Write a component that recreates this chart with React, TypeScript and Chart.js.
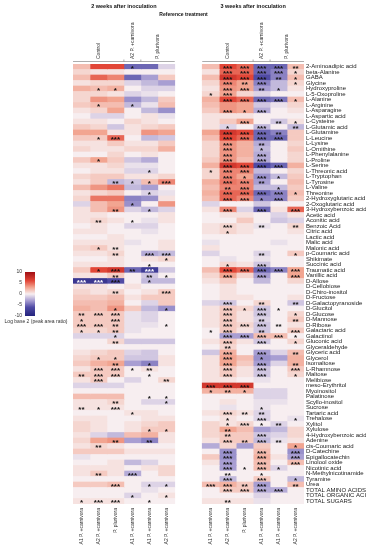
import React, { useEffect, useRef } from "react";
import { Chart, registerables } from "chart.js";

Chart.register(...registerables);

const rowLabels = [
  "2-Aminoadipic acid", "beta-Alanine", "GABA", "Glycine", "Hydroxyproline", "L-5-Oxoproline",
  "L-Alanine", "L-Arginine", "L-Asparagine", "L-Aspartic acid", "L-Cysteine", "L-Glutamic acid",
  "L-Glutamine", "L-Leucine", "L-Lysine", "L-Ornithine", "L-Phenylalanine", "L-Proline", "L-Serine",
  "L-Threonic acid", "L-Tryptophan", "L-Tyrosine", "L-Valine", "Threonine", "2-Hydroxyglutaric acid",
  "2-Oxoglutaric acid", "3-Hydroxybenzoic acid", "Acetic acid", "Aconitic acid", "Benzoic Acid",
  "Citric acid", "Lactic acid", "Malic acid", "Malonic acid", "p-Coumaric acid", "Shikimate",
  "Succinic acid", "Traumatic acid", "Vanillic acid", "D-Allose", "D-Cellobiose", "D-Chiro-inositol",
  "D-Fructose", "D-Galactopyranoside", "D-Glucitol", "D-Glucose", "D-Mannose", "D-Ribose",
  "Galactaric acid", "Galactinol", "Gluconic acid", "Glyceraldehyde", "Glyceric acid", "Glycerol",
  "Isomaltose", "L-Rhamnose", "Maltose", "Melibiose", "meso-Erythritol", "Myoinositol", "Palatinose",
  "Scyllo-inositol", "Sucrose", "Tartaric acid", "Trehalose", "Xylitol", "Xylulose",
  "4-Hydroxybenzoic acid", "Adenine", "cis-Coumaric acid", "D-Catechine", "Epigallocatechin",
  "Linolool oxide", "Nicotinic acid", "N-Methylnicotinamide", "Tyramine", "Urea",
  "TOTAL AMINO ACIDS", "TOTAL ORGANIC ACIDS", "TOTAL SUGARS",
];

const compareLabels = [
  "A1 P. +carnivora", "A2 P. +carnivora", "P. plurivora",
  "A1 P. +carnivora", "A1 P. +carnivora", "A2 P. +carnivora",
];
const referenceGroups = ["Control", "A2 P. +carnivora", "P. plurivora"];
const referenceSpans = [3, 1, 2];
const panelTitles = ["2 weeks after inoculation", "3 weeks after inoculation"];
const middleTitle = "Reference treatment";
const legendTicks = [10, 5, 0, -5, -10];
const legendTitle = "Log base 2 (peak area ratio)";

// ---- 2 weeks after inoculation (log2 ratios) ----
const w2A1vsCtrl = [
  2, 1, 2, 0.5, 2.5, 1, 1, 1.5, 0.5, 0,
  0.5, 1.5, 3, 1.5, 0.5, 1, 0, 1.5, 0.5, 0,
  1, 0.5, 2, 0.5, 1, -1, 0.5, 0.5, 0.5, 0,
  0.5, 0, 0.5, 1, 0.5, 0, 0.5, 1.5, 0.5, -8,
  0.5, 1, 1.5, 2, 2.5, 1.5, 1.5, 1.5, 1, -1,
  0, 0, 0.5, 1, 1.5, 0.5, 1.5, 0.5, -1, 0,
  2, 0.5, 0.5, 0, 0.5, 1, 1, 0.5, 1, 0.5,
  1.5, -0.5, 0, 0.5, 0.5, 0, 1.5, 0, 0, 0.5,
];
const w2A2vsCtrl = [
  6, 0.5, 5, 1, 2, 1, 3.5, 2, 1, -1,
  0.5, 1, 3, 1.5, 0.5, 0.5, 0, 3, 0.5, 0.5,
  1.5, 1.5, 3.5, 1, 4.5, 2, 2, 0.5, 1, 0.5,
  0.5, 0, 0.5, 1.5, 0.5, 0, 0.5, 6, 0.5, -8,
  0.5, 0.5, 1.5, 2, 2, 1.5, 1.5, 1.5, 1, -1,
  0, 0, 1, 1.5, 2.5, 1.5, 1.5, 1.5, -1, 0,
  2, 0.5, 0.5, 0, 0.5, 0.5, 0.5, -1, 3, 1,
  1.5, 0, 0, 0.5, 1.5, 0, 1.5, 0, 0, 0.5,
];
const w2PpvsCtrl = [
  6, 0.5, 4, 1, 2.5, 0.5, 3, 2, 3, -1,
  0, -1.5, 0.5, 5, 1.5, 0.5, 1, 1.5, 1, 0.5,
  1.5, -2, 4.5, 1.5, 4.5, 3, 3.5, 0, 0.5, 0,
  0, 0.5, 0.5, 0.5, 1, 0.5, 0.5, 7, 1.5, -6,
  0, 1, 2, 2.5, 3.5, 1.5, 1.5, 1.5, 1.5, -1,
  1, 0, 1.5, 1.5, 3, 1.5, 1.5, 0, -1, 0,
  2, 1, 0.5, 0, 0, 0, 0, -2, 3.5, 0.5,
  1.5, 0, 0.5, 0.5, 0.5, 0, 2, 0, 0, 0.5,
];
const w2A1vsA2 = [
  -5, 0, -5, -1, 0, -1, -3.5, -2, 0, 0,
  1, 0.5, 0.5, 0, 0.5, 1, 0, -1.5, -0.5, -1,
  0.5, -1.5, -2, 0, -4, -3.5, -1, 0, 0, -1,
  0, 0, -0.5, 0, 0, 0, 0, -5, 0, 0,
  0.5, 0, 0.5, 0, 1.5, -0.5, -0.5, -0.5, -0.5, 0,
  -1.5, 0, -1, -1.5, -3, 0, 0, -1, 0, 0,
  0, 0, 0, 0.5, 0, 0.5, 0.5, 2, -3, 0,
  0.5, 0, -2, 0, -2.5, 0, 0, 0, -1, 0,
];
const w2A1vsPp = [
  -5, 0, -3, -2, -1, -0.5, -2, -0.5, -2, 0.5,
  0.5, 1, 3.5, -2, 0.5, 1, 0.5, -2.5, -0.5, -1,
  0.5, 2, -3, -1, -3.5, 0, -2, 0, -0.5, -1,
  -0.5, 0, 0, 0, -2.5, 0.5, 0, -7.5, -1.5, -2,
  0, 0.5, 1.5, -1, -2, -1, -1, -0.5, 0, 0,
  -1.5, 0, -1.5, -1.5, -4, 0.5, 0, 0, 0, 0,
  0, -1, 0, 0.5, 0.5, 1, 1.5, 2.5, -4, 0,
  0.5, 0, -1, 0.5, 0, 0, -1, -0.5, 0, 0,
];
const w2A2vsPp = [
  -1, 0, 1.5, -3, -1, 0, 1.5, 2, -3.5, -0.5,
  0, 1.5, 3, -1.5, 1.5, 2.5, 0, 0, 0, 0,
  1, 4, 0, -0.5, 0.5, 3.5, -1, 0.5, 0.5, 0,
  0, 0, 0.5, 0.5, -2, 1, 0, -1.5, 0, -2,
  0, 1.5, 1.5, 1.5, -3.5, 0, 0, 0, 0, 0,
  -1.5, 0, 0, 0.5, 0.5, 0, 0, 1, 0, 0,
  0, -1, 0, 0, 0.5, 1.5, 1.5, 0.5, 0.5, 0,
  0.5, 0, 0, 1, 1, 0, -1, 0, 0.5, 0,
];

// ---- 3 weeks after inoculation (log2 ratios) ----
const w3A1vsCtrl = [
  2, 0.5, 2, 1, 0.5, 1, 2.5, 2, 1.5, 0.5,
  0.5, 0.5, 3, 2, 1, 1, 1, 1.5, 2.5, 1,
  1, 2.5, 2, 2.5, 2, -1, 0.5, 0, 0, 0.5,
  0.5, 0, -0.5, 0.5, -1, 0, 0, 2, 1, 0.5,
  0, 0, 0, -1, 0.5, 0.5, 0.5, 0.5, 0, 0,
  0.5, 0, -1.5, 0.5, 0.5, 0.5, 0.5, 0.5, 7, 2.5,
  0, 0, 0, 0.5, 0, 1, 1, 1, 0.5, -2.5,
  0, 1.5, 0.5, 0, 0, 0, 2, 0, 0, 0.5,
];
const w3A2vsCtrl = [
  6, 5, 7, 4, 3.5, 3, 6, 3.5, 3.5, 0.5,
  1.5, -1, 7, 6, 3.5, 3.5, 3.5, 3.5, 7, 4,
  4, 4.5, 4, 5, 5, 0, 4, 0.5, 0, 1,
  1, 0, 0, 0, 0, -0.5, 1, 6, 3, 1.5,
  0.5, 0.5, 0.5, -1.5, 1.5, 1.5, 1.5, 1.5, 1.5, -3,
  1.5, 1, 2.5, 3, 3, 1.5, 1.5, 0.5, 7, 2.5,
  0, 0.5, -0.5, 1, 0.5, 0.5, 3, 1.5, 1.5, 1,
  -3.5, -3.5, -3, -3, 0, -2, 2.5, 1.5, 0, 0.5,
];
const w3PpvsCtrl = [
  5, 5, 6, 3, 3, 1, 5, 3, 3, 0.5,
  3, 0, 6, 5, 2.5, 2.5, 2.5, 2, 6, 4,
  3, 4, 4, 5, 4, 0, -1, 0.5, 1.5, 0.5,
  0.5, 0, 0, 0, 0, 0, 0.5, 5, 1, 0,
  0, 0, 0.5, 0, 1, 0.5, 0.5, 1, 0.5, -3,
  0.5, 0, 0, 2, 1.5, 0.5, 0.5, 0, 7, 2.5,
  0, 0, 0, 0.5, 0, 1, 2, 1.5, 1.5, -3,
  0, 0, 0, 0, 0, 0, 1.5, 1.5, 0, 0.5,
];
const w3A1vsA2 = [
  -5, -5, -6, -4, -3, -1, -5, -1.5, -2.5, 0,
  0, -2, -5, -5, -2.5, -2, -2.5, -2.5, -6, -2,
  -3.5, -3, -2, -5, -4, -1.5, -5, 0, 0, -0.5,
  0, 0, 0, 0, -1, -0.5, -1.5, -5, -3, -2,
  0, 0, 0, 1, -1.5, -1.5, -1, -1.5, -1.5, 2,
  -1.5, 0, -3, -3.5, -3, -1.5, -1.5, -0.5, 0, -1,
  -1, -0.5, -0.5, -1, -1, 0, -3, -1.5, -2, 1.5,
  2, 2.5, 2, 2, 0, 1.5, -3, -2.5, -1, -0.5,
];
const w3A1vsPp = [
  -5, -4, -4, -2, -2, 0, -4.5, -0.5, 0, 0,
  -1.5, 0, -4, -5, 0, 0, 0, 0, -5, 0,
  -2, 0, -2, -4, -4, 0, 0.5, -1, -1.5, 0,
  0, 0, -0.5, 0, 0, 0, 0, -4, 0, 0,
  0, 0, 0, 0, 0, 0, 0, 0, 0, 2,
  0, 0, -1, -3, -1, 0, 0, 0, 0, -1,
  -1, -0.5, 0, 0, 0, -1, -2, -1, -0.5, 0,
  0, 0.5, 0, -1, 0, 0, 0, -2.5, 0, 0,
];
const w3A2vsPp = [
  2, 1, 2, 1, 0.5, 0, 2, 1, 0.5, 0,
  0.5, -2, 1.5, 1.5, 1, 1.5, 1, 1, 2.5, 1,
  1.5, 2, 1.5, 2, 1.5, 0, 5, 0.5, -1, 1,
  0.5, 0, 0, 0, 1.5, 0, 0, 3, 3, 1,
  0, 0, 0.5, -1.5, 0, 1, 1.5, 0.5, 1.5, 0,
  1, 0, 2, 2.5, 2.5, 1.5, 1, 0, 0, 0,
  0, 0, 0, 0, -0.5, 0, 1, 1, 0.5, 3,
  -3.5, -3, 2, 0, 0, -2, 2, 0, 0, 0,
];

// significance: number of asterisks per row
const w2A1vsCtrlStars = "0000000000" + "0000000000" + "0000000000" + "0000000003" + "0000021310" + "0000002000" + "0020000000" + "0000000001";
const w2A2vsCtrlStars = "0000100100" + "0001000100" + "0000000020" + "0001000103" + "0000030310" + "0001033300" + "0010000002" + "0000200003";
const w2PpvsCtrlStars = "0000100000" + "0003000000" + "0200002000" + "0002200323" + "0200133221" + "2001233000" + "0230000020" + "0000003003";
const w2A1vsA2Stars = "1000000100" + "0000000000" + "0100010010" + "0000000200" + "0000000000" + "0000010000" + "0001000000" + "0000300010";
const w2A1vsPpStars = "0000000000" + "0000000001" + "0101001000" + "0000301321" + "0000000000" + "0000121000" + "1000001020" + "0000001001";
const w2A2vsPpStars = "0000000000" + "0000000000" + "0300000000" + "0000310010" + "0300100100" + "0000000200" + "1100001000" + "0000001010";

const w3A1vsCtrlStars = "0000010000" + "0000000001" + "0000000000" + "0000000000" + "0000000010" + "0000000031" + "0000000000" + "0000003000";
const w3A2vsCtrlStars = "3333333030" + "0133333333" + "3323303003" + "1000001330" + "0003333333" + "3233333032" + "0003112230" + "3333233302";
const w3PpvsCtrlStars = "3332303010" + "3033000033" + "1333300000" + "0000000300" + "0000100303" + "0000000031" + "0002030020" + "0001002300";
const w3A1vsA2Stars = "3333203030" + "0333213330" + "3203103002" + "0000203330" + "0002332323" + "3031333000" + "0012310330" + "3333133300";
const w3A1vsPpStars = "3320103000" + "2023000030" + "1013300000" + "0000000300" + "0000100203" + "0000000000" + "0000020020" + "0001000300";
const w3A2vsPpStars = "2111001000" + "1200000000" + "0001003002" + "0000100330" + "0002012031" + "1020231000" + "0000100001" + "3330012000";

const week2Columns = [w2A1vsCtrl, w2A2vsCtrl, w2PpvsCtrl, w2A1vsA2, w2A1vsPp, w2A2vsPp];
const week3Columns = [w3A1vsCtrl, w3A2vsCtrl, w3PpvsCtrl, w3A1vsA2, w3A1vsPp, w3A2vsPp];
const week2Stars = [w2A1vsCtrlStars, w2A2vsCtrlStars, w2PpvsCtrlStars, w2A1vsA2Stars, w2A1vsPpStars, w2A2vsPpStars];
const week3Stars = [w3A1vsCtrlStars, w3A2vsCtrlStars, w3PpvsCtrlStars, w3A1vsA2Stars, w3A1vsPpStars, w3A2vsPpStars];

const GAP = 1.62;
const FONT = "'Liberation Sans', Arial, sans-serif";

const colorStops: [number, number[]][] = [
  [-10, [35, 35, 125]],
  [-6, [80, 75, 165]],
  [-3, [168, 158, 210]],
  [0, [247, 238, 240]],
  [3, [242, 165, 145]],
  [6, [226, 70, 55]],
  [10, [160, 15, 20]],
];

function colorFor(v: number): string {
  const x = Math.max(-10, Math.min(10, v));
  for (let i = 0; i < colorStops.length - 1; i++) {
    const [a, ca] = colorStops[i];
    const [b, cb] = colorStops[i + 1];
    if (x >= a && x <= b) {
      const t = (x - a) / (b - a);
      const c = ca.map((c0, k) => Math.round(c0 + (cb[k] - c0) * t));
      return `rgb(${c[0]},${c[1]},${c[2]})`;
    }
  }
  return "rgb(247,238,240)";
}

export default function App() {
  const ref = useRef<HTMLCanvasElement | null>(null);

  useEffect(() => {
    const canvas = ref.current;
    if (!canvas) return;

    const cellColumns = [...week2Columns, null, ...week3Columns];
    const starColumns = [...week2Stars, null, ...week3Stars];

    const datasets = cellColumns.map((col) => {
      if (!col) {
        return {
          data: rowLabels.map(() => GAP),
          backgroundColor: "rgba(0,0,0,0)",
          stack: "s",
        };
      }
      return {
        data: rowLabels.map(() => 1),
        backgroundColor: col.map(colorFor),
        stack: "s",
      };
    });

    const overlay = {
      id: "overlay",
      afterDatasetsDraw(chart: any) {
        const ctx = chart.ctx as CanvasRenderingContext2D;
        const xs = chart.scales.x;
        const area = chart.chartArea;
        ctx.save();

        // asterisks
        starColumns.forEach((stars, di) => {
          if (!stars) return;
          const vals = cellColumns[di] as number[];
          const meta = chart.getDatasetMeta(di);
          meta.data.forEach((el: any, i: number) => {
            const n = Number(stars[i] || "0");
            if (!n) return;
            const cx = (el.x + el.base) / 2;
            ctx.font = `bold 8px ${FONT}`;
            ctx.textAlign = "center";
            ctx.textBaseline = "middle";
            ctx.fillStyle = vals[i] <= -6.5 ? "#ffffff" : "#111111";
            ctx.fillText("*".repeat(n), cx, el.y + 1.8);
          });
        });

        // panel decorations
        [0, 6 + GAP].forEach((off, p) => {
          const left = xs.getPixelForValue(off);
          const right = xs.getPixelForValue(off + 6);
          ctx.fillStyle = "#111";
          ctx.font = `bold 5.5px ${FONT}`;
          ctx.textAlign = "center";
          ctx.textBaseline = "middle";
          ctx.fillText(panelTitles[p], (left + right) / 2, 6);

          ctx.strokeStyle = "#8a8a8a";
          ctx.lineWidth = 0.7;
          ctx.beginPath();
          ctx.moveTo(left, area.top - 2.5);
          ctx.lineTo(right, area.top - 2.5);
          let acc = 0;
          referenceSpans.forEach((s, gi) => {
            if (gi > 0) {
              const bx = xs.getPixelForValue(off + acc);
              ctx.moveTo(bx, area.top - 2.5);
              ctx.lineTo(bx, area.top - 4.5);
            }
            acc += s;
          });
          ctx.stroke();

          ctx.fillStyle = "#333";
          ctx.font = `5px ${FONT}`;
          acc = 0;
          referenceSpans.forEach((s, gi) => {
            const cx = xs.getPixelForValue(off + acc + s / 2);
            ctx.save();
            ctx.translate(cx, area.top - 5);
            ctx.rotate(-Math.PI / 2);
            ctx.textAlign = "left";
            ctx.textBaseline = "middle";
            ctx.fillText(referenceGroups[gi], 0, 0);
            ctx.restore();
            acc += s;
          });

          compareLabels.forEach((lab, ci) => {
            const cx = xs.getPixelForValue(off + ci + 0.5);
            ctx.save();
            ctx.translate(cx, area.bottom + 4);
            ctx.rotate(-Math.PI / 2);
            ctx.textAlign = "right";
            ctx.textBaseline = "middle";
            ctx.fillText(lab, 0, 0);
            ctx.restore();
          });
        });

        ctx.fillStyle = "#111";
        ctx.font = `bold 5px ${FONT}`;
        ctx.textAlign = "center";
        ctx.textBaseline = "middle";
        ctx.fillText(middleTitle, 183.5, 15);

        // colour legend
        const lx = 25, lw = 10, ly = 272, lh = 44;
        for (let k = 0; k < lh; k++) {
          const v = 10 - (20 * (k + 0.5)) / lh;
          ctx.fillStyle = colorFor(v);
          ctx.fillRect(lx, ly + k, lw, 1);
        }
        ctx.fillStyle = "#333";
        ctx.font = `5px ${FONT}`;
        ctx.textAlign = "right";
        legendTicks.forEach((t) => {
          const y = ly + ((10 - t) / 20) * lh;
          ctx.fillText(String(t), lx - 3, y);
        });
        ctx.textAlign = "center";
        ctx.fillText(legendTitle, 36, ly + lh + 6);

        ctx.restore();
      },
    };

    const chart = new Chart(canvas, {
      type: "bar",
      data: { labels: rowLabels, datasets: datasets as any },
      options: {
        indexAxis: "y",
        responsive: false,
        animation: false,
        layout: { padding: { left: 73, top: 64, bottom: 46, right: 0 } },
        datasets: {
          bar: {
            categoryPercentage: 1,
            barPercentage: 1,
            borderWidth: 0,
            inflateAmount: 0.35,
          } as any,
        },
        scales: {
          x: { stacked: true, display: false, min: 0, max: 12 + GAP },
          y: {
            stacked: true,
            position: "right",
            grid: { display: false, drawTicks: false },
            border: { display: false },
            ticks: {
              autoSkip: false,
              padding: 2,
              color: "#222",
              font: { size: 6, family: FONT },
            },
            afterFit: (s: any) => {
              s.width = 62;
            },
          },
        },
        plugins: {
          legend: { display: false },
          tooltip: { enabled: false },
        },
      },
      plugins: [overlay],
    });

    return () => chart.destroy();
  }, []);

  return (
    <div style={{ position: "absolute", left: 0, top: 0, width: 366, height: 550, background: "#fff" }}>
      <canvas ref={ref} width={366} height={550} style={{ width: 366, height: 550, display: "block" }} />
    </div>
  );
}
